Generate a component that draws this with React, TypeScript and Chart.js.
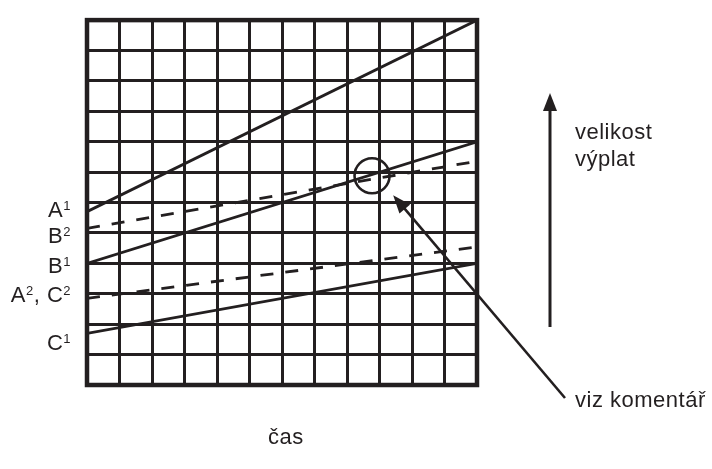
import React, { useEffect, useRef } from 'react';
import { Chart, registerables } from 'chart.js';

Chart.register(...registerables);

const INK = '#231f20';
const FONT = '"Liberation Sans", Arial, Helvetica, sans-serif';

// time axis (x) and payout axis (y), 12 x 12 grid
const timeSteps = [0, 12];
const seriesA1 = [5.7, 12];
const seriesB2 = [5.15, 7.36];
const seriesB1 = [4, 8];
const seriesA2C2 = [2.85, 4.54];
const seriesC1 = [1.7, 4];
const circleMark = [{ x: 8.77, y: 6.88 }];

// left-side labels: parts [text, isSuperscript]
const leftLabels: Array<Array<[string, boolean]>> = [
  [['A', false], ['1', true]],
  [['B', false], ['2', true]],
  [['B', false], ['1', true]],
  [['A', false], ['2', true], [', C', false], ['2', true]],
  [['C', false], ['1', true]],
];
const leftLabelBaselines = [217, 243, 273, 302, 350];

const yTitleLines = ['velikost', 'výplat'];
const commentText = 'viz komentář';
const xTitle = 'čas';

const toPoints = (vals: number[]) => vals.map((y, i) => ({ x: timeSteps[i], y }));

function arrow(ctx: CanvasRenderingContext2D, x1: number, y1: number, x2: number, y2: number, lw: number, headLen: number, headHalf: number) {
  const ang = Math.atan2(y2 - y1, x2 - x1);
  const bx = x2 - Math.cos(ang) * headLen;
  const by = y2 - Math.sin(ang) * headLen;
  ctx.save();
  ctx.strokeStyle = INK;
  ctx.fillStyle = INK;
  ctx.lineWidth = lw;
  ctx.lineCap = 'butt';
  ctx.beginPath();
  ctx.moveTo(x1, y1);
  ctx.lineTo(bx + Math.cos(ang) * 2, by + Math.sin(ang) * 2);
  ctx.stroke();
  ctx.beginPath();
  ctx.moveTo(x2, y2);
  ctx.lineTo(bx + Math.sin(ang) * headHalf, by - Math.cos(ang) * headHalf);
  ctx.lineTo(bx - Math.sin(ang) * headHalf, by + Math.cos(ang) * headHalf);
  ctx.closePath();
  ctx.fill();
  ctx.restore();
}

const decorPlugin = {
  id: 'decor',
  afterDraw(chart: any) {
    const ctx: CanvasRenderingContext2D = chart.ctx;
    const a = chart.chartArea;
    ctx.save();
    // outer frame
    ctx.strokeStyle = INK;
    ctx.lineWidth = 4.5;
    ctx.lineJoin = 'miter';
    ctx.strokeRect(a.left, a.top, a.right - a.left, a.bottom - a.top);

    const mainFont = `22px ${FONT}`;
    const supFont = `13px ${FONT}`;
    ctx.fillStyle = INK;
    (ctx as any).letterSpacing = '0.5px';
    ctx.textBaseline = 'alphabetic';
    ctx.textAlign = 'left';

    // left labels, right aligned
    const rightEdge = a.left - 16;
    leftLabels.forEach((parts, i) => {
      const base = leftLabelBaselines[i];
      let total = 0;
      const widths = parts.map(([t, sup]) => {
        ctx.font = sup ? supFont : mainFont;
        const w = ctx.measureText(t).width;
        total += w;
        return w;
      });
      let x = rightEdge - total;
      parts.forEach(([t, sup], j) => {
        ctx.font = sup ? supFont : mainFont;
        ctx.fillText(t, x, sup ? base - 7 : base);
        x += widths[j];
      });
    });

    // right annotations
    ctx.font = mainFont;
    const tx = a.right + 98;
    ctx.fillText(yTitleLines[0], tx, 139);
    ctx.fillText(yTitleLines[1], tx, 166);
    ctx.fillText(commentText, tx, 407);
    ctx.fillText(xTitle, 268, 444);
    ctx.restore();

    // vertical arrow
    arrow(ctx, a.right + 73, 327, a.right + 73, 93, 3, 18, 7);
    // comment arrow pointing to the circle
    const xs = chart.scales.x;
    const ys = chart.scales.y;
    const tipX = xs.getPixelForValue(9.42);
    const tipY = ys.getPixelForValue(6.24);
    arrow(ctx, a.right + 88, 398, tipX, tipY, 2.6, 18, 7);
  },
};

export default function App() {
  const ref = useRef<HTMLCanvasElement | null>(null);
  useEffect(() => {
    if (!ref.current) return;
    const solid = (vals: number[]) => ({
      type: 'line' as const,
      data: toPoints(vals),
      borderColor: INK,
      borderWidth: 2.8,
      pointRadius: 0,
      fill: false,
      tension: 0,
    });
    const dashed = (vals: number[]) => ({ ...solid(vals), borderDash: [13, 12] });
    const chart = new Chart(ref.current, {
      type: 'line',
      data: {
        datasets: [
          solid(seriesA1),
          dashed(seriesB2),
          solid(seriesB1),
          dashed(seriesA2C2),
          solid(seriesC1),
          {
            type: 'scatter',
            data: circleMark,
            pointRadius: 17.5,
            pointHoverRadius: 17.5,
            pointStyle: 'circle',
            borderColor: INK,
            borderWidth: 2.6,
            backgroundColor: 'rgba(0,0,0,0)',
          } as any,
        ],
      },
      options: {
        responsive: false,
        animation: false,
        events: [],
        layout: { padding: { left: 87, top: 10, right: 235, bottom: 84 } },
        plugins: { legend: { display: false }, tooltip: { enabled: false } },
        scales: {
          x: {
            type: 'linear',
            min: 0,
            max: 12,
            ticks: { display: false, stepSize: 1 },
            grid: { color: INK, lineWidth: 3, drawTicks: false },
            border: { display: false },
          },
          y: {
            type: 'linear',
            min: 0,
            max: 12,
            ticks: { display: false, stepSize: 1 },
            grid: { color: INK, lineWidth: 3, drawTicks: false },
            border: { display: false },
          },
        },
      },
      plugins: [decorPlugin],
    });
    return () => chart.destroy();
  }, []);
  return (
    <div style={{ position: 'fixed', left: 0, top: 0, width: 712, height: 469, background: '#fff' }}>
      <canvas ref={ref} width={712} height={469} style={{ display: 'block' }} />
    </div>
  );
}
